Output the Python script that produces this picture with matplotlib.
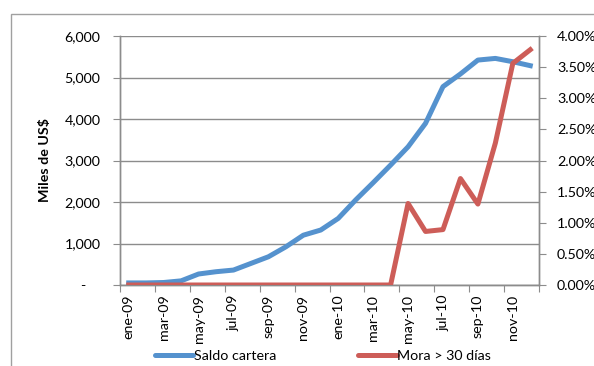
import matplotlib
matplotlib.use("Agg")
import matplotlib.pyplot as plt
from matplotlib.patches import Rectangle
from matplotlib.ticker import FuncFormatter, FixedLocator
from matplotlib.lines import Line2D
import numpy as np

months = ["ene-09", "feb-09", "mar-09", "abr-09", "may-09", "jun-09", "jul-09", "ago-09",
          "sep-09", "oct-09", "nov-09", "dic-09", "ene-10", "feb-10", "mar-10", "abr-10",
          "may-10", "jun-10", "jul-10", "ago-10", "sep-10", "oct-10", "nov-10", "dic-10"]
saldo = [50, 50, 60, 100, 265, 320, 360, 520, 680, 920, 1200, 1325,
         1605, 2050, 2465, 2890, 3330, 3895, 4780, 5085, 5420, 5460, 5380, 5285]
mora = [0, 0, 0, 0, 0, 0, 0, 0, 0, 0, 0, 0,
        0, 0, 0, 0, 1.31, 0.86, 0.89, 1.71, 1.30, 2.28, 3.56, 3.78]
left_ticks = [0, 1000, 2000, 3000, 4000, 5000, 6000]
right_ticks = [0, 0.5, 1.0, 1.5, 2.0, 2.5, 3.0, 3.5, 4.0]

plt.rcParams['font.family'] = ['Lato', 'DejaVu Sans']
BLUE = '#5592CE'
RED = '#CD5D58'
GRID = '#8C8C8C'
FS = 10.3

fig = plt.figure(figsize=(5.94, 3.66), dpi=100)
fig.patches.append(Rectangle((11/594, -0.1), 1.2, 1 - 14/366 + 0.1, transform=fig.transFigure,
                             fill=False, edgecolor='#A0A0A0', linewidth=1.0))

ax = fig.add_axes([120/594, 1 - 285/366, (539-120)/594, (285-36)/366])
ax2 = ax.twinx()

x = np.arange(len(months))
ax.plot(x, saldo, color=BLUE, linewidth=3.6, solid_joinstyle='round', zorder=3)
ax2.plot(x, mora, color=RED, linewidth=3.6, solid_joinstyle='round', zorder=3)

ax.set_xlim(-0.5, len(months) - 0.5)
ax.set_ylim(0, 6000)
ax2.set_ylim(0, 4.0)

ax.yaxis.set_major_locator(FixedLocator(left_ticks))
ax.yaxis.set_major_formatter(FuncFormatter(lambda v, p: '-    ' if v == 0 else f"{int(v):,}"))
ax2.yaxis.set_major_locator(FixedLocator(right_ticks))
ax2.yaxis.set_major_formatter(FuncFormatter(lambda v, p: f"{v:.2f}%"))

ax.set_xticks(np.arange(-0.5, len(months), 2))
ax.set_xticklabels([])
ax.set_xticks(x[::2], minor=True)
ax.set_xticklabels(months[::2], minor=True, rotation=90, fontsize=FS)
ax.tick_params(axis='x', which='major', length=5, color=GRID, direction='out')
ax.tick_params(axis='x', which='minor', length=0, pad=7)

ax.tick_params(axis='y', length=5, color=GRID, labelsize=FS, pad=9)
ax2.tick_params(axis='y', length=5, color=GRID, labelsize=FS, pad=8)

ax.grid(axis='y', color=GRID, linewidth=1.0)
ax.set_axisbelow(True)

for a in (ax, ax2):
    a.spines['top'].set_visible(False)
    for s in ('left', 'right', 'bottom'):
        a.spines[s].set_color(GRID)
        a.spines[s].set_linewidth(1.0)

ax.set_ylabel("Miles de US$", fontsize=FS, fontweight='bold', labelpad=10)

h1 = Line2D([], [], color=BLUE, linewidth=3.6, solid_capstyle='round')
h2 = Line2D([], [], color=RED, linewidth=3.6, solid_capstyle='round')
fig.legend([h1, h2], ["Saldo cartera", "Mora > 30 días"], loc='center',
           bbox_to_anchor=(323/594, 1 - 356/366), ncol=2, frameon=False,
           fontsize=FS, handlelength=2.7, handletextpad=0.05, columnspacing=5.7,
           borderpad=0, borderaxespad=0)

fig.savefig("out.png", dpi=100)
